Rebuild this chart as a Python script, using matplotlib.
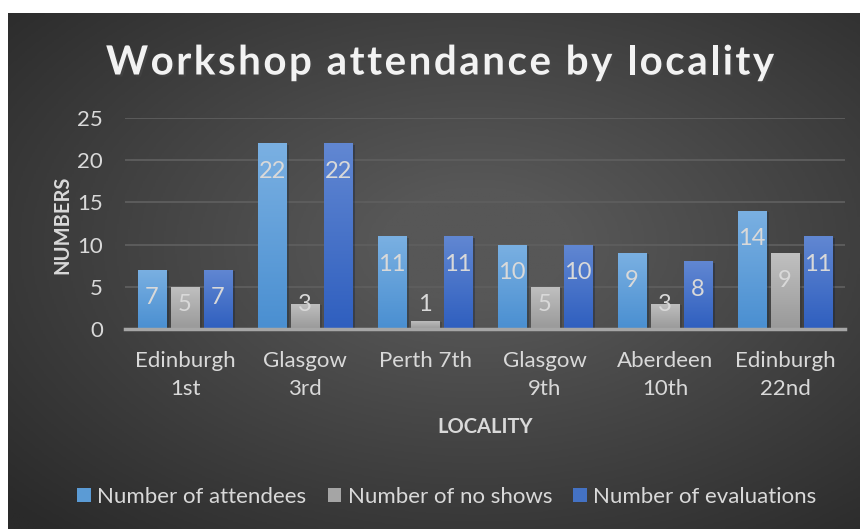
import numpy as np
import matplotlib.pyplot as plt
import matplotlib.patheffects as pe
from matplotlib.colors import LinearSegmentedColormap
from matplotlib.font_manager import FontProperties
from matplotlib.patches import Patch

plt.rcParams['font.family'] = ['Lato', 'DejaVu Sans']

# data
localities = ['Edinburgh\n1st', 'Glasgow\n3rd', 'Perth 7th', 'Glasgow\n9th',
              'Aberdeen\n10th', 'Edinburgh\n22nd']
attendees = [7, 22, 11, 10, 9, 14]
no_shows = [5, 3, 1, 5, 3, 9]
evaluations = [7, 22, 11, 10, 8, 11]

series = [
    ('Number of attendees', attendees, '#7ab0e2', '#4a8fd1', '#5b9bd5'),
    ('Number of no shows', no_shows, '#c0c0c0', '#999999', '#a5a5a5'),
    ('Number of evaluations', evaluations, '#6187d2', '#2f5fbf', '#4472c4'),
]

fig = plt.figure(figsize=(8.6, 5.29), dpi=100)
fig.patch.set_facecolor('white')

# dark radial background
bg = fig.add_axes([8 / 860, 0, 1 - 8 / 860, 1 - 13 / 529])
bg.set_axis_off()
yy, xx = np.mgrid[0:1:300j, 0:1:500j]
r = np.sqrt(((xx - 0.55) / 0.75) ** 2 + ((yy - 0.45) / 0.75) ** 2)
shade = np.clip(1 - r, 0, 1)
bg_cmap = LinearSegmentedColormap.from_list('bg', ['#2a2a2a', '#575757'])
bg.imshow(shade, cmap=bg_cmap, aspect='auto', extent=[0, 1, 0, 1], vmin=0, vmax=0.85)
bg.set_xlim(0, 1)
bg.set_ylim(0, 1)

ax = fig.add_axes([125 / 860, 1 - 329 / 529, 720 / 860, 211 / 529])
ax.patch.set_alpha(0)

x = np.arange(len(localities))
w = 0.235
step = 0.275
for i, (name, vals, top, bot, _) in enumerate(series):
    cmap = LinearSegmentedColormap.from_list(name, [bot, top])
    bars = ax.bar(x + (i - 1) * step, vals, w, color=bot, zorder=3,
                  path_effects=[pe.SimplePatchShadow(offset=(2, -1), alpha=0.35), pe.Normal()])
    for b, v in zip(bars, vals):
        grad = np.linspace(0, 1, 100).reshape(-1, 1)
        im = ax.imshow(grad, cmap=cmap, aspect='auto', origin='lower', zorder=3.5,
                       extent=[b.get_x(), b.get_x() + b.get_width(), 0, v])
        im.set_clip_path(b)
        # inside end label, pushed up when the bar is too short
        ax.text(b.get_x() + b.get_width() / 2, max(v - 3.3, 2.85), str(v),
                ha='center', va='center', fontsize=17, color='#d9d9d9', zorder=5)

ax.set_xlim(-0.5, len(localities) - 0.5)
ax.set_ylim(0, 25)
ax.set_yticks(range(0, 26, 5))
ax.set_xticks(x)
ax.set_xticklabels(localities, linespacing=1.5)
ax.tick_params(colors='#d9d9d9', labelsize=16, length=0)
ax.tick_params(axis='y', pad=16)
ax.tick_params(axis='x', pad=16)
ax.grid(axis='y', color='#5e5e5e', linewidth=1.3, zorder=0)
ax.set_axisbelow(True)
for s in ['top', 'right', 'left']:
    ax.spines[s].set_visible(False)
ax.spines['bottom'].set_color('#a6a6a6')
ax.spines['bottom'].set_linewidth(2.5)
ax.spines['bottom'].set_zorder(6)

fig.text(62 / 860, 1 - 225 / 529, 'NUMBERS', rotation=90, ha='center', va='center',
         fontsize=14.5, fontweight='bold', color='#d9d9d9')
fig.text(485 / 860, 1 - 427 / 529, 'LOCALITY', ha='center', va='center',
         fontsize=14.5, fontweight='bold', color='#d9d9d9')

# title with letter spacing, drawn one character at a time
title = 'Workshop attendance by locality'
tprop = FontProperties(family=['Lato', 'DejaVu Sans'], weight='bold', size=29)
rend = fig.canvas.get_renderer()
ref_w = rend.get_text_width_height_descent('|', tprop, ismath=False)[0]
spacing = 2.5
adv = [rend.get_text_width_height_descent(title[:k] + '|', tprop, ismath=False)[0] - ref_w
       for k in range(len(title))]
total = adv[-1] + rend.get_text_width_height_descent(title[-1], tprop, ismath=False)[0] \
    + spacing * (len(title) - 1)
x0 = 440 - total / 2
for k, ch in enumerate(title):
    if ch == ' ':
        continue
    fig.text((x0 + adv[k] + spacing * k) / 860, 1 - 63 / 529, ch, ha='left', va='center',
             fontproperties=tprop, color='#f2f2f2',
             path_effects=[pe.withSimplePatchShadow(offset=(1.5, -1.5), alpha=0.5)])

handles = [Patch(facecolor=leg_c, label=name) for name, _, _, _, leg_c in series]
fig.legend(handles=handles, loc='center', bbox_to_anchor=(447 / 860, 1 - 497 / 529), ncol=3,
           frameon=False, fontsize=16, handlelength=0.6, handleheight=0.6,
           handletextpad=0.3, columnspacing=0.95, labelcolor='#d9d9d9')

fig.savefig('out.png', dpi=100)
